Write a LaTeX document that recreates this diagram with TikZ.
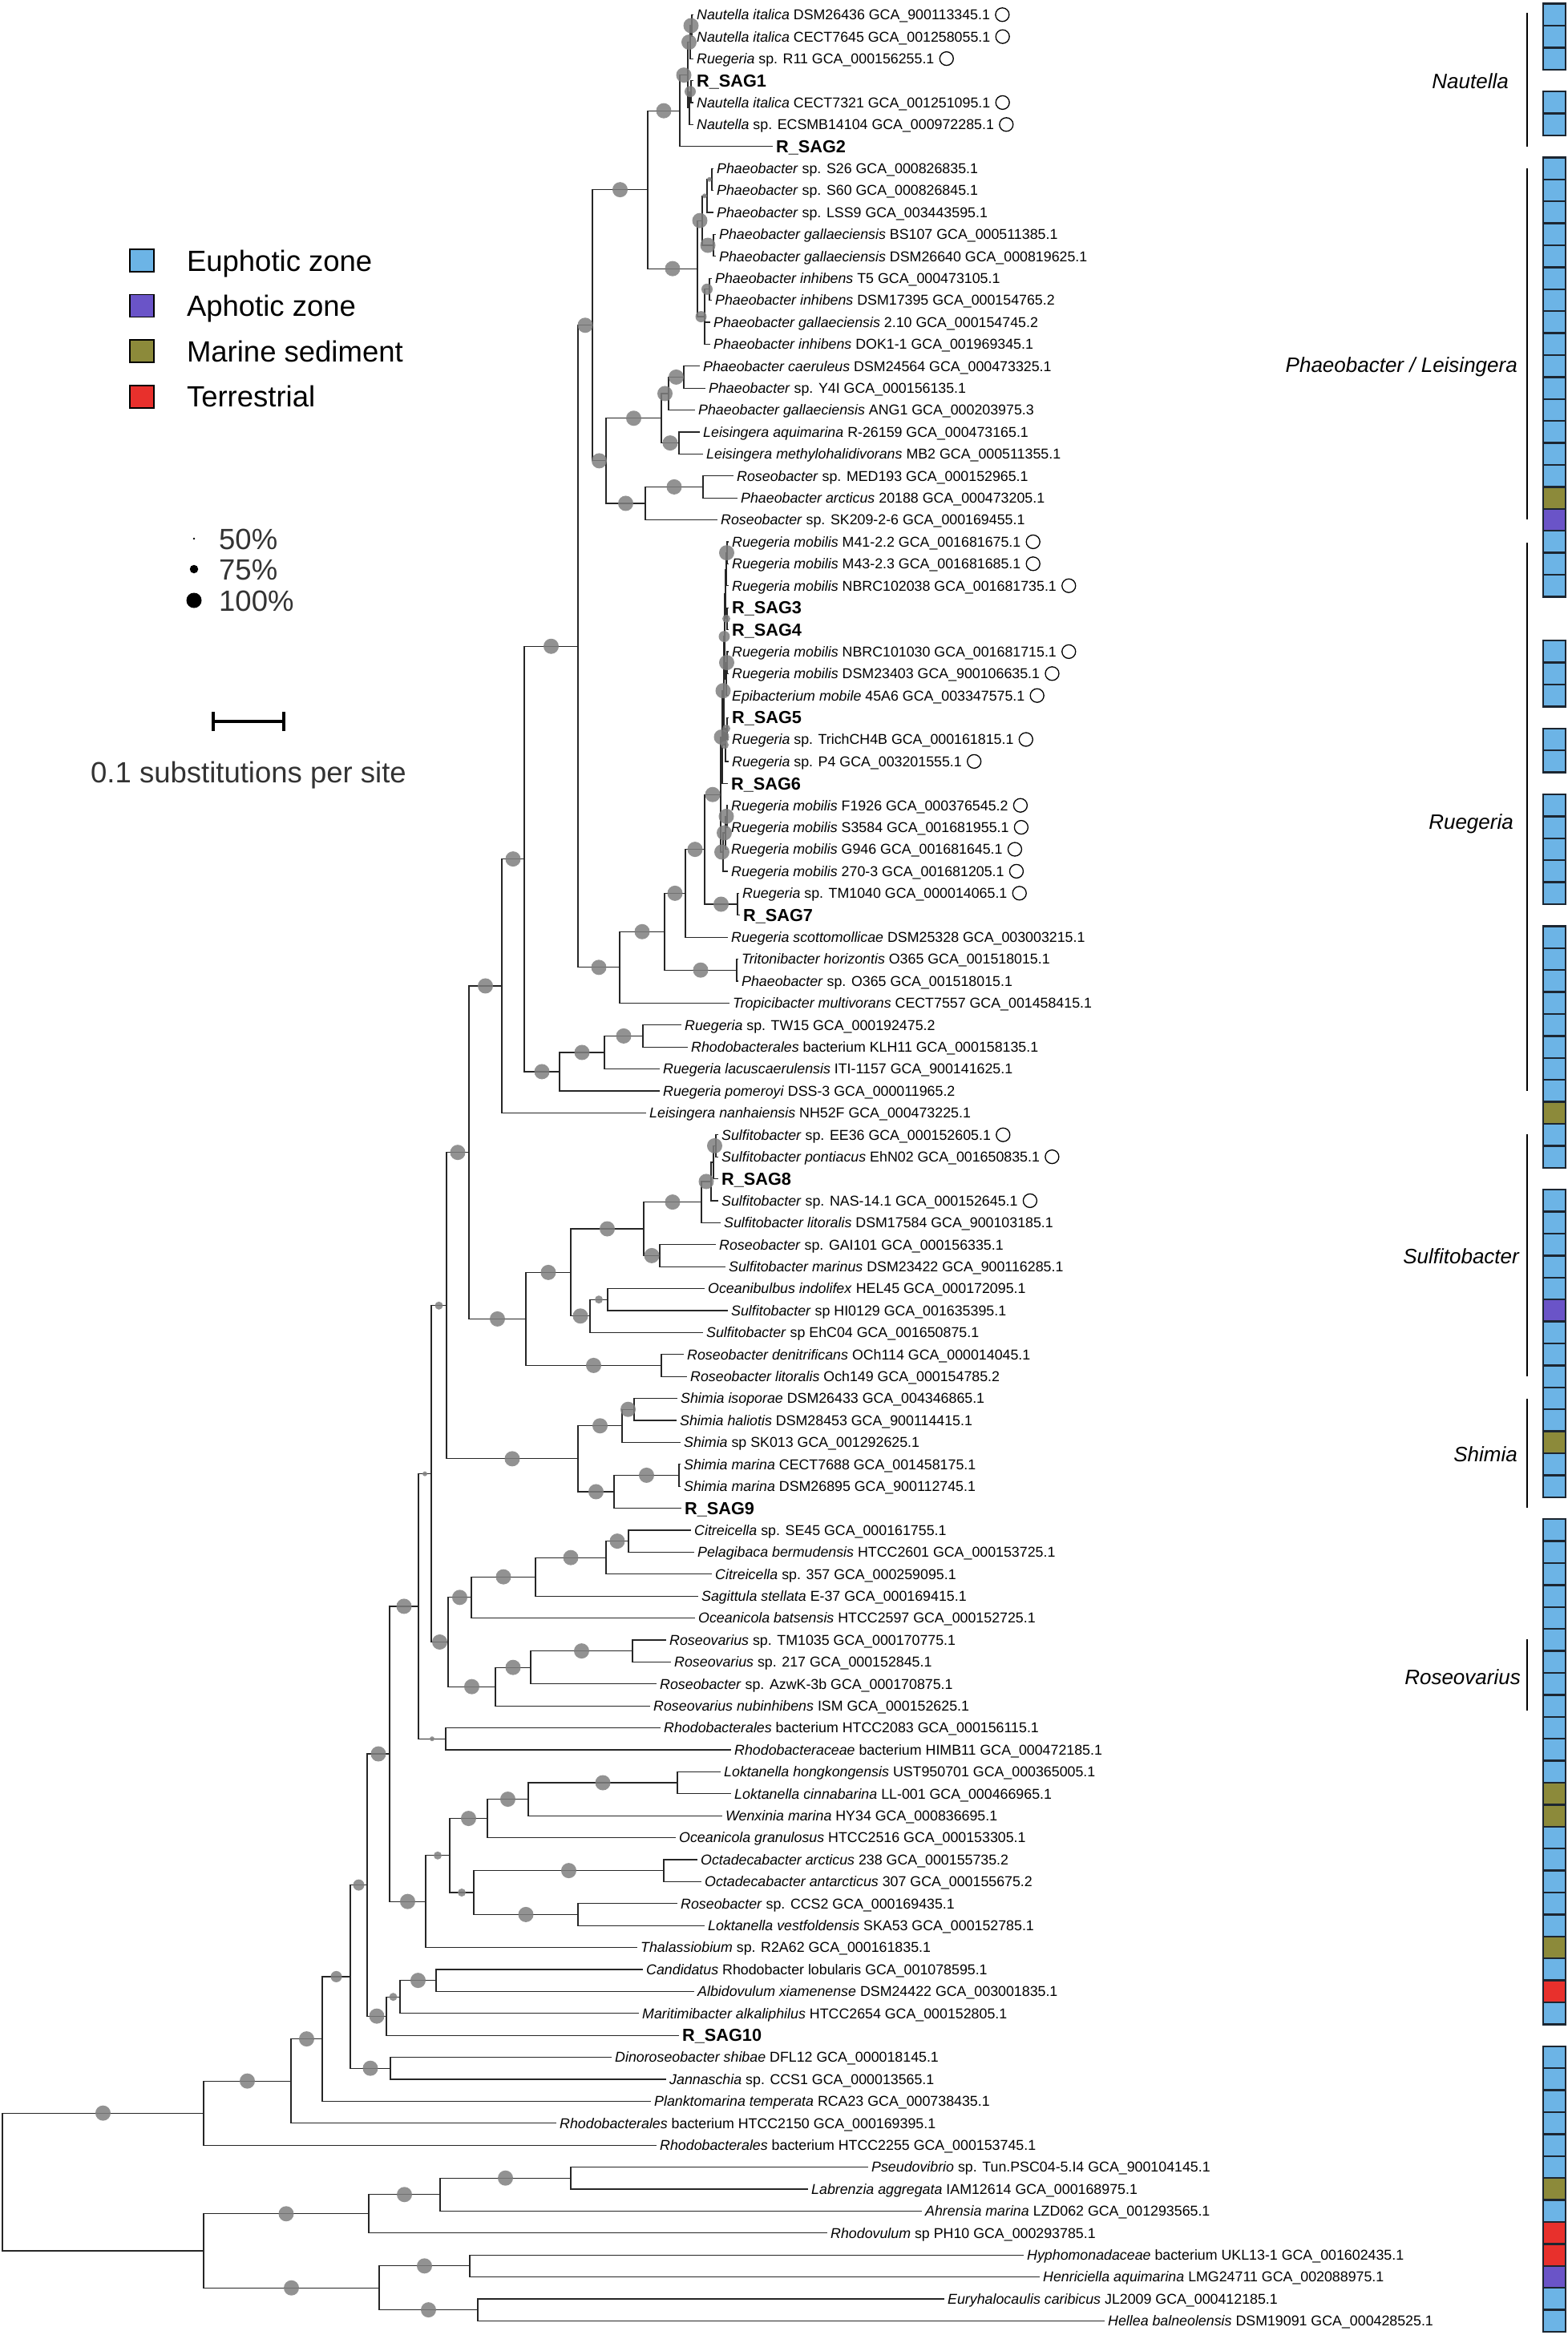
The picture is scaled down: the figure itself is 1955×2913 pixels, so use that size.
\documentclass[tikz,border=0pt]{standalone}
\usepackage{fontspec}
\setmainfont{Liberation Sans}
\usepackage{xcolor}
\usepackage{tikz}
\usetikzlibrary{calc}
\usetikzlibrary{positioning}

\definecolor{euphotic}{HTML}{6CB4E6}
\definecolor{aphotic}{HTML}{6A54C8}
\definecolor{sediment}{HTML}{8C8A3A}
\definecolor{terrestrial}{HTML}{E8302C}
\definecolor{bootgray}{HTML}{7F7F7F}
\definecolor{boxline}{HTML}{1C2631}

\tikzstyle{branch} = [draw=black!85, line width=1.2pt]
\tikzstyle{leaf} = [anchor=west, inner xsep=4pt, inner ysep=0pt, text height=12.7pt,
                    text depth=0pt, font=\fontsize{17.8}{20}\selectfont]
\tikzstyle{sag} = [leaf, text height=15.6pt, font=\fontsize{21.7}{24}\selectfont\bfseries]
\tikzstyle{strain} = [circle, draw=black, line width=1.3pt, minimum size=17pt, inner sep=0pt]
\tikzstyle{boot} = [circle, fill=bootgray, fill opacity=0.85, inner sep=0pt]
\tikzstyle{bsbig} = [boot, minimum size=19pt]
\tikzstyle{bsmed} = [boot, minimum size=14pt]
\tikzstyle{bssmall} = [boot, minimum size=10pt]
\tikzstyle{bstiny} = [boot, minimum size=6pt]
\tikzstyle{envbox} = [draw=boxline, line width=2.4pt]
\tikzstyle{cladebar} = [draw=black, line width=2.6pt]
\tikzstyle{cladename} = [anchor=east, inner sep=0pt, font=\fontsize{26}{30}\selectfont\itshape]
\tikzstyle{legendbox} = [draw=black, line width=1.6pt, minimum width=30pt,
                         minimum height=28pt, inner sep=0pt]
\tikzstyle{legendtext} = [anchor=west, inner sep=0pt, text height=26pt, text depth=0pt,
                          font=\fontsize{36.5}{40}\selectfont]
\tikzstyle{pcttext} = [legendtext, text=black!80]
\tikzstyle{dotkey} = [circle, fill=black, inner sep=0pt]
\tikzstyle{scalebar} = [draw=black, line width=3.5pt]

\begin{document}
\begin{tikzpicture}[x=1pt, y=-1pt]
  \useasboundingbox (0,0) rectangle (1955,2913);

  % Legend: habitats
  \node [legendbox, fill=euphotic] (kEuphotic) at (177,325) {};
  \node [legendbox, fill=aphotic, below=27pt of kEuphotic] (kAphotic) {};
  \node [legendbox, fill=sediment, below=27pt of kAphotic] (kSediment) {};
  \node [legendbox, fill=terrestrial, below=27pt of kSediment] (kTerrestrial) {};
  \node [legendtext, right=40pt of kEuphotic] (tEuphotic) {Euphotic zone};
  \node [legendtext, right=40pt of kAphotic] (tAphotic) {Aphotic zone};
  \node [legendtext, right=40pt of kSediment] (tSediment) {Marine sediment};
  \node [legendtext, right=40pt of kTerrestrial] (tTerrestrial) {Terrestrial};

  % Legend: bootstrap
  \node [dotkey, minimum size=2.6pt] (k50) at (242,672) {};
  \node [dotkey, minimum size=10.5pt] (k75) at (242,710) {};
  \node [dotkey, minimum size=19pt] (k100) at (242,749) {};
  \node [pcttext] (t50) at (273,672) {50\%};
  \node [pcttext] (t75) at (273,710) {75\%};
  \node [pcttext] (t100) at (273,749) {100\%};

  % Scale bar
  \coordinate (sbL) at (266,900);
  \coordinate (sbR) at (354,900);
  \draw [scalebar] (sbL) -- (sbR);
  \draw [scalebar] ($(sbL)+(0,-12)$) -- ($(sbL)+(0,12)$);
  \draw [scalebar] ($(sbR)+(0,-12)$) -- ($(sbR)+(0,12)$);
  \node [pcttext] (tScale) at (113,963) {0.1 substitutions per site};

  % Clades
  \draw [cladebar] (1905,16) -- (1905,183);
  \draw [cladebar] (1905,210) -- (1905,648);
  \draw [cladebar] (1905,677) -- (1905,1361);
  \draw [cladebar] (1905,1415) -- (1905,1717);
  \draw [cladebar] (1905,1745) -- (1905,1881);
  \draw [cladebar] (1905,2045) -- (1905,2134);
  \node [cladename] (cNautella) at (1882,101) {Nautella};
  \node [cladename] (cPhaeobacter) at (1893,458) {Phaeobacter / Leisingera};
  \node [cladename] (cRuegeria) at (1888,1028) {Ruegeria};
  \node [cladename] (cSulfitobacter) at (1895,1567) {Sulfitobacter};
  \node [cladename] (cShimia) at (1893,1814) {Shimia};
  \node [cladename] (cRoseovarius) at (1897,2092) {Roseovarius};

  \begin{scope}[y=-27.4pt, yshift=9.1pt]
  % Place leaves
  \node [leaf] (l1) at (865,1) {\textit{Nautella italica} DSM26436 GCA\_900113345.1};
  \node [leaf] (l2) at (865,2) {\textit{Nautella italica} CECT7645 GCA\_001258055.1};
  \node [leaf] (l3) at (865,3) {\textit{Ruegeria} sp. R11 GCA\_000156255.1};
  \node [sag] (l4) at (865,4) {R\_SAG1};
  \node [leaf] (l5) at (865,5) {\textit{Nautella italica} CECT7321 GCA\_001251095.1};
  \node [leaf] (l6) at (865,6) {\textit{Nautella} sp. ECSMB14104 GCA\_000972285.1};
  \node [sag] (l7) at (964,7) {R\_SAG2};
  \node [leaf] (l8) at (890,8) {\textit{Phaeobacter} sp. S26 GCA\_000826835.1};
  \node [leaf] (l9) at (890,9) {\textit{Phaeobacter} sp. S60 GCA\_000826845.1};
  \node [leaf] (l10) at (890,10) {\textit{Phaeobacter} sp. LSS9 GCA\_003443595.1};
  \node [leaf] (l11) at (893,11) {\textit{Phaeobacter gallaeciensis} BS107 GCA\_000511385.1};
  \node [leaf] (l12) at (893,12) {\textit{Phaeobacter gallaeciensis} DSM26640 GCA\_000819625.1};
  \node [leaf] (l13) at (888,13) {\textit{Phaeobacter inhibens} T5 GCA\_000473105.1};
  \node [leaf] (l14) at (888,14) {\textit{Phaeobacter inhibens} DSM17395 GCA\_000154765.2};
  \node [leaf] (l15) at (886,15) {\textit{Phaeobacter gallaeciensis} 2.10 GCA\_000154745.2};
  \node [leaf] (l16) at (886,16) {\textit{Phaeobacter inhibens} DOK1-1 GCA\_001969345.1};
  \node [leaf] (l17) at (873,17) {\textit{Phaeobacter caeruleus} DSM24564 GCA\_000473325.1};
  \node [leaf] (l18) at (880,18) {\textit{Phaeobacter} sp. Y4I GCA\_000156135.1};
  \node [leaf] (l19) at (867,19) {\textit{Phaeobacter gallaeciensis} ANG1 GCA\_000203975.3};
  \node [leaf] (l20) at (873,20) {\textit{Leisingera aquimarina} R-26159 GCA\_000473165.1};
  \node [leaf] (l21) at (877,21) {\textit{Leisingera methylohalidivorans} MB2 GCA\_000511355.1};
  \node [leaf] (l22) at (915,22) {\textit{Roseobacter} sp. MED193 GCA\_000152965.1};
  \node [leaf] (l23) at (920,23) {\textit{Phaeobacter arcticus} 20188 GCA\_000473205.1};
  \node [leaf] (l24) at (895,24) {\textit{Roseobacter} sp. SK209-2-6 GCA\_000169455.1};
  \node [leaf] (l25) at (909,25) {\textit{Ruegeria mobilis} M41-2.2 GCA\_001681675.1};
  \node [leaf] (l26) at (909,26) {\textit{Ruegeria mobilis} M43-2.3 GCA\_001681685.1};
  \node [leaf] (l27) at (909,27) {\textit{Ruegeria mobilis} NBRC102038 GCA\_001681735.1};
  \node [sag] (l28) at (909,28) {R\_SAG3};
  \node [sag] (l29) at (909,29) {R\_SAG4};
  \node [leaf] (l30) at (909,30) {\textit{Ruegeria mobilis} NBRC101030 GCA\_001681715.1};
  \node [leaf] (l31) at (909,31) {\textit{Ruegeria mobilis} DSM23403 GCA\_900106635.1};
  \node [leaf] (l32) at (909,32) {\textit{Epibacterium mobile} 45A6 GCA\_003347575.1};
  \node [sag] (l33) at (909,33) {R\_SAG5};
  \node [leaf] (l34) at (909,34) {\textit{Ruegeria} sp. TrichCH4B GCA\_000161815.1};
  \node [leaf] (l35) at (909,35) {\textit{Ruegeria} sp. P4 GCA\_003201555.1};
  \node [sag] (l36) at (908,36) {R\_SAG6};
  \node [leaf] (l37) at (908,37) {\textit{Ruegeria mobilis} F1926 GCA\_000376545.2};
  \node [leaf] (l38) at (908,38) {\textit{Ruegeria mobilis} S3584 GCA\_001681955.1};
  \node [leaf] (l39) at (908,39) {\textit{Ruegeria mobilis} G946 GCA\_001681645.1};
  \node [leaf] (l40) at (908,40) {\textit{Ruegeria mobilis} 270-3 GCA\_001681205.1};
  \node [leaf] (l41) at (922,41) {\textit{Ruegeria} sp. TM1040 GCA\_000014065.1};
  \node [sag] (l42) at (923,42) {R\_SAG7};
  \node [leaf] (l43) at (908,43) {\textit{Ruegeria scottomollicae} DSM25328 GCA\_003003215.1};
  \node [leaf] (l44) at (921,44) {\textit{Tritonibacter horizontis} O365 GCA\_001518015.1};
  \node [leaf] (l45) at (921,45) {\textit{Phaeobacter} sp. O365 GCA\_001518015.1};
  \node [leaf] (l46) at (910,46) {\textit{Tropicibacter multivorans} CECT7557 GCA\_001458415.1};
  \node [leaf] (l47) at (850,47) {\textit{Ruegeria} sp. TW15 GCA\_000192475.2};
  \node [leaf] (l48) at (858,48) {\textit{Rhodobacterales} bacterium KLH11 GCA\_000158135.1};
  \node [leaf] (l49) at (823,49) {\textit{Ruegeria lacuscaerulensis} ITI-1157 GCA\_900141625.1};
  \node [leaf] (l50) at (823,50) {\textit{Ruegeria pomeroyi} DSS-3 GCA\_000011965.2};
  \node [leaf] (l51) at (806,51) {\textit{Leisingera nanhaiensis} NH52F GCA\_000473225.1};
  \node [leaf] (l52) at (896,52) {\textit{Sulfitobacter} sp. EE36 GCA\_000152605.1};
  \node [leaf] (l53) at (896,53) {\textit{Sulfitobacter pontiacus} EhN02 GCA\_001650835.1};
  \node [sag] (l54) at (896,54) {R\_SAG8};
  \node [leaf] (l55) at (896,55) {\textit{Sulfitobacter} sp. NAS-14.1 GCA\_000152645.1};
  \node [leaf] (l56) at (899,56) {\textit{Sulfitobacter litoralis} DSM17584 GCA\_900103185.1};
  \node [leaf] (l57) at (893,57) {\textit{Roseobacter} sp. GAI101 GCA\_000156335.1};
  \node [leaf] (l58) at (905,58) {\textit{Sulfitobacter marinus} DSM23422 GCA\_900116285.1};
  \node [leaf] (l59) at (879,59) {\textit{Oceanibulbus indolifex} HEL45 GCA\_000172095.1};
  \node [leaf] (l60) at (908,60) {\textit{Sulfitobacter} sp HI0129 GCA\_001635395.1};
  \node [leaf] (l61) at (877,61) {\textit{Sulfitobacter} sp EhC04 GCA\_001650875.1};
  \node [leaf] (l62) at (853,62) {\textit{Roseobacter denitrificans} OCh114 GCA\_000014045.1};
  \node [leaf] (l63) at (857,63) {\textit{Roseobacter litoralis} Och149 GCA\_000154785.2};
  \node [leaf] (l64) at (845,64) {\textit{Shimia isoporae} DSM26433 GCA\_004346865.1};
  \node [leaf] (l65) at (844,65) {\textit{Shimia haliotis} DSM28453 GCA\_900114415.1};
  \node [leaf] (l66) at (849,66) {\textit{Shimia} sp SK013 GCA\_001292625.1};
  \node [leaf] (l67) at (849,67) {\textit{Shimia marina} CECT7688 GCA\_001458175.1};
  \node [leaf] (l68) at (849,68) {\textit{Shimia marina} DSM26895 GCA\_900112745.1};
  \node [sag] (l69) at (850,69) {R\_SAG9};
  \node [leaf] (l70) at (862,70) {\textit{Citreicella} sp. SE45 GCA\_000161755.1};
  \node [leaf] (l71) at (866,71) {\textit{Pelagibaca bermudensis} HTCC2601 GCA\_000153725.1};
  \node [leaf] (l72) at (888,72) {\textit{Citreicella} sp. 357 GCA\_000259095.1};
  \node [leaf] (l73) at (871,73) {\textit{Sagittula stellata} E-37 GCA\_000169415.1};
  \node [leaf] (l74) at (867,74) {\textit{Oceanicola batsensis} HTCC2597 GCA\_000152725.1};
  \node [leaf] (l75) at (831,75) {\textit{Roseovarius} sp. TM1035 GCA\_000170775.1};
  \node [leaf] (l76) at (837,76) {\textit{Roseovarius} sp. 217 GCA\_000152845.1};
  \node [leaf] (l77) at (819,77) {\textit{Roseobacter} sp. AzwK-3b GCA\_000170875.1};
  \node [leaf] (l78) at (811,78) {\textit{Roseovarius nubinhibens} ISM GCA\_000152625.1};
  \node [leaf] (l79) at (824,79) {\textit{Rhodobacterales} bacterium HTCC2083 GCA\_000156115.1};
  \node [leaf] (l80) at (912,80) {\textit{Rhodobacteraceae} bacterium HIMB11 GCA\_000472185.1};
  \node [leaf] (l81) at (899,81) {\textit{Loktanella hongkongensis} UST950701 GCA\_000365005.1};
  \node [leaf] (l82) at (912,82) {\textit{Loktanella cinnabarina} LL-001 GCA\_000466965.1};
  \node [leaf] (l83) at (901,83) {\textit{Wenxinia marina} HY34 GCA\_000836695.1};
  \node [leaf] (l84) at (843,84) {\textit{Oceanicola granulosus} HTCC2516 GCA\_000153305.1};
  \node [leaf] (l85) at (870,85) {\textit{Octadecabacter arcticus} 238 GCA\_000155735.2};
  \node [leaf] (l86) at (875,86) {\textit{Octadecabacter antarcticus} 307 GCA\_000155675.2};
  \node [leaf] (l87) at (845,87) {\textit{Roseobacter} sp. CCS2 GCA\_000169435.1};
  \node [leaf] (l88) at (879,88) {\textit{Loktanella vestfoldensis} SKA53 GCA\_000152785.1};
  \node [leaf] (l89) at (795,89) {\textit{Thalassiobium} sp. R2A62 GCA\_000161835.1};
  \node [leaf] (l90) at (802,90) {\textit{Candidatus} Rhodobacter lobularis GCA\_001078595.1};
  \node [leaf] (l91) at (866,91) {\textit{Albidovulum xiamenense} DSM24422 GCA\_003001835.1};
  \node [leaf] (l92) at (797,92) {\textit{Maritimibacter alkaliphilus} HTCC2654 GCA\_000152805.1};
  \node [sag] (l93) at (847,93) {R\_SAG10};
  \node [leaf] (l94) at (763,94) {\textit{Dinoroseobacter shibae} DFL12 GCA\_000018145.1};
  \node [leaf] (l95) at (831,95) {\textit{Jannaschia} sp. CCS1 GCA\_000013565.1};
  \node [leaf] (l96) at (812,96) {\textit{Planktomarina temperata} RCA23 GCA\_000738435.1};
  \node [leaf] (l97) at (694,97) {\textit{Rhodobacterales} bacterium HTCC2150 GCA\_000169395.1};
  \node [leaf] (l98) at (819,98) {\textit{Rhodobacterales} bacterium HTCC2255 GCA\_000153745.1};
  \node [leaf] (l99) at (1083,99) {\textit{Pseudovibrio} sp. Tun.PSC04-5.I4 GCA\_900104145.1};
  \node [leaf] (l100) at (1008,100) {\textit{Labrenzia aggregata} IAM12614 GCA\_000168975.1};
  \node [leaf] (l101) at (1150,101) {\textit{Ahrensia marina} LZD062 GCA\_001293565.1};
  \node [leaf] (l102) at (1032,102) {\textit{Rhodovulum} sp PH10 GCA\_000293785.1};
  \node [leaf] (l103) at (1277,103) {\textit{Hyphomonadaceae} bacterium UKL13-1 GCA\_001602435.1};
  \node [leaf] (l104) at (1297,104) {\textit{Henriciella aquimarina} LMG24711 GCA\_002088975.1};
  \node [leaf] (l105) at (1178,105) {\textit{Euryhalocaulis caribicus} JL2009 GCA\_000412185.1};
  \node [leaf] (l106) at (1378,106) {\textit{Hellea balneolensis} DSM19091 GCA\_000428525.1};

  % Strain marks
  \node [strain, right=2pt of l1] (o1) {};
  \node [strain, right=2pt of l2] (o2) {};
  \node [strain, right=2pt of l3] (o3) {};
  \node [strain, right=2pt of l5] (o5) {};
  \node [strain, right=2pt of l6] (o6) {};
  \node [strain, right=2pt of l25] (o25) {};
  \node [strain, right=2pt of l26] (o26) {};
  \node [strain, right=2pt of l27] (o27) {};
  \node [strain, right=2pt of l30] (o30) {};
  \node [strain, right=2pt of l31] (o31) {};
  \node [strain, right=2pt of l32] (o32) {};
  \node [strain, right=2pt of l34] (o34) {};
  \node [strain, right=2pt of l35] (o35) {};
  \node [strain, right=2pt of l37] (o37) {};
  \node [strain, right=2pt of l38] (o38) {};
  \node [strain, right=2pt of l39] (o39) {};
  \node [strain, right=2pt of l40] (o40) {};
  \node [strain, right=2pt of l41] (o41) {};
  \node [strain, right=2pt of l52] (o52) {};
  \node [strain, right=2pt of l53] (o53) {};
  \node [strain, right=2pt of l55] (o55) {};

  % Habitat boxes
  \foreach \i in {1,2,3,5,6,8,9,10,11,12,13,14,15,16,17,18,19,20,21,22,25,26,27,30,31,32,
                  34,35,37,38,39,40,41,43,44,45,46,47,48,49,50,52,53,55,56,57,58,59,61,62,
                  63,64,65,67,68,70,71,72,73,74,75,76,77,78,79,80,81,84,85,86,87,88,90,92,
                  94,95,96,97,98,99,101,105,106}
    \draw [envbox, fill=euphotic] (1925,\i-0.5) rectangle (1953,\i+0.5);
  \foreach \i in {23,51,66,82,83,89,100}
    \draw [envbox, fill=sediment] (1925,\i-0.5) rectangle (1953,\i+0.5);
  \foreach \i in {24,60,104}
    \draw [envbox, fill=aphotic] (1925,\i-0.5) rectangle (1953,\i+0.5);
  \foreach \i in {91,102,103}
    \draw [envbox, fill=terrestrial] (1925,\i-0.5) rectangle (1953,\i+0.5);

  % Internal nodes
  \coordinate (n12) at (863,1.5);
  \coordinate (n123) at (861,2.25);
  \coordinate (n45) at (862,4.5);
  \coordinate (n456) at (860,5.25);
  \coordinate (nNau) at (858,3.75);
  \coordinate (nW3) at (848,5.375);
  \coordinate (nP1a) at (888,8.5);
  \coordinate (nP1b) at (882,9.25);
  \coordinate (nP1c) at (890,11.5);
  \coordinate (nP1) at (876,10.375);
  \coordinate (nP2a) at (885,13.5);
  \coordinate (nP2) at (879,14.75);
  \coordinate (nW4) at (870,12.5625);
  \coordinate (nW1) at (808,8.96875);
  \coordinate (nW9) at (853,17.5);
  \coordinate (nW7) at (834,18.25);
  \coordinate (nW8) at (847,20.5);
  \coordinate (nW5) at (825,19.375);
  \coordinate (nW10) at (877,22.5);
  \coordinate (nW6) at (805,23.25);
  \coordinate (nW2) at (756,21.3125);
  \coordinate (nW) at (739,15.140625);
  \coordinate (c1) at (907,25.5);
  \coordinate (c2) at (906,26.25);
  \coordinate (c3) at (907,28.5);
  \coordinate (c4) at (905,27.375);
  \coordinate (c5) at (907,30.5);
  \coordinate (c6) at (906,31.25);
  \coordinate (c7) at (904,29.3125);
  \coordinate (c9) at (907,33.5);
  \coordinate (c8) at (905,34.25);
  \coordinate (cA) at (903,31.78125);
  \coordinate (cUp) at (901,33.890625);
  \coordinate (c10) at (907,37.5);
  \coordinate (c11) at (905,38.25);
  \coordinate (cL) at (902,39.125);
  \coordinate (nX6) at (899,36.5078);
  \coordinate (nX7) at (920,41.5);
  \coordinate (nX5) at (879,39.0039);
  \coordinate (nX3) at (855,41.002);
  \coordinate (nX4) at (919,44.5);
  \coordinate (nX1) at (829,42.751);
  \coordinate (nX) at (773,44.3755);
  \coordinate (nU1) at (721,29.758);
  \coordinate (nV2) at (802,47.5);
  \coordinate (nV1) at (754,48.25);
  \coordinate (nV) at (698,49.125);
  \coordinate (nU) at (654,39.4415);
  \coordinate (nA11) at (626,45.2208);
  \coordinate (nS8) at (893,52.5);
  \coordinate (nS7b) at (890,53.25);
  \coordinate (nS7) at (887,54.125);
  \coordinate (nS5) at (875,55.0625);
  \coordinate (nS6) at (823,57.5);
  \coordinate (nS3) at (803,56.28125);
  \coordinate (nS10) at (758,59.5);
  \coordinate (nS4) at (736,60.25);
  \coordinate (nS1) at (712,58.265625);
  \coordinate (nS2) at (825,62.5);
  \coordinate (nS) at (656,60.3828);
  \coordinate (nA10) at (585,52.8018);
  \coordinate (nG1) at (791,64.5);
  \coordinate (nG2) at (776,65.25);
  \coordinate (nH2) at (847,67.5);
  \coordinate (nH) at (766,68.25);
  \coordinate (nG) at (721,66.75);
  \coordinate (nA9) at (557,59.7759);
  \coordinate (nF7) at (784,70.5);
  \coordinate (nF8) at (756,71.25);
  \coordinate (nF9) at (668,72.125);
  \coordinate (nF1) at (588,73.0625);
  \coordinate (nF5) at (789,75.5);
  \coordinate (nF4) at (662,76.25);
  \coordinate (nF2) at (618,77.125);
  \coordinate (nF) at (559,75.09375);
  \coordinate (nA8) at (538,67.4348);
  \coordinate (nE) at (556,79.5);
  \coordinate (nA7) at (522,73.4674);
  \coordinate (nD5) at (845,81.5);
  \coordinate (nD4) at (659,82.25);
  \coordinate (nD2) at (608,83.125);
  \coordinate (nD6) at (828,85.5);
  \coordinate (nD7) at (721,87.5);
  \coordinate (nD3) at (591,86.5);
  \coordinate (nD1) at (561,84.8125);
  \coordinate (nD) at (531,86.90625);
  \coordinate (nA6) at (486,80.1868);
  \coordinate (nC2) at (544,90.5);
  \coordinate (nC1) at (499,91.25);
  \coordinate (nC) at (482,92.125);
  \coordinate (nA5) at (458,86.1559);
  \coordinate (nB) at (487,94.5);
  \coordinate (nA4) at (437,90.328);
  \coordinate (nA3) at (402,93.164);
  \coordinate (nA2) at (363,95.082);
  \coordinate (nA1) at (254,96.541);
  \coordinate (nO3) at (712,99.5);
  \coordinate (nO2) at (549,100.25);
  \coordinate (nO1) at (460,101.125);
  \coordinate (nO5) at (586,103.5);
  \coordinate (nO6) at (596,105.5);
  \coordinate (nO4) at (473,104.5);
  \coordinate (nO) at (254,102.8125);
  \coordinate (root) at (3,99.677);

  % Branches
  \draw [branch] (l1.west) -| (l2.west -| n12) -- (l2.west);
  \draw [branch] (n12) -| (l3.west -| n123) -- (l3.west);
  \draw [branch] (l4.west) -| (l5.west -| n45) -- (l5.west);
  \draw [branch] (n45) -| (l6.west -| n456) -- (l6.west);
  \draw [branch] (n123) -| (n456 -| nNau) -- (n456);
  \draw [branch] (nNau) -| (l7.west -| nW3) -- (l7.west);
  \draw [branch] (l8.west) -| (l9.west -| nP1a) -- (l9.west);
  \draw [branch] (nP1a) -| (l10.west -| nP1b) -- (l10.west);
  \draw [branch] (l11.west) -| (l12.west -| nP1c) -- (l12.west);
  \draw [branch] (nP1b) -| (nP1c -| nP1) -- (nP1c);
  \draw [branch] (l13.west) -| (l14.west -| nP2a) -- (l14.west);
  \draw [branch] (nP2a) -| (l16.west -| nP2) -- (l16.west);
  \draw [branch] (l15.west -| nP2) -- (l15.west);
  \draw [branch] (nP1) -| (nP2 -| nW4) -- (nP2);
  \draw [branch] (nW3) -| (nW4 -| nW1) -- (nW4);
  \draw [branch] (l17.west) -| (l18.west -| nW9) -- (l18.west);
  \draw [branch] (nW9) -| (l19.west -| nW7) -- (l19.west);
  \draw [branch] (l20.west) -| (l21.west -| nW8) -- (l21.west);
  \draw [branch] (nW7) -| (nW8 -| nW5) -- (nW8);
  \draw [branch] (l22.west) -| (l23.west -| nW10) -- (l23.west);
  \draw [branch] (nW10) -| (l24.west -| nW6) -- (l24.west);
  \draw [branch] (nW5) -| (nW6 -| nW2) -- (nW6);
  \draw [branch] (nW1) -| (nW2 -| nW) -- (nW2);
  \draw [branch] (l25.west) -| (l26.west -| c1) -- (l26.west);
  \draw [branch] (c1) -| (l27.west -| c2) -- (l27.west);
  \draw [branch] (l28.west) -| (l29.west -| c3) -- (l29.west);
  \draw [branch] (c2) -| (c3 -| c4) -- (c3);
  \draw [branch] (l30.west) -| (l31.west -| c5) -- (l31.west);
  \draw [branch] (c5) -| (l32.west -| c6) -- (l32.west);
  \draw [branch] (c4) -| (c6 -| c7) -- (c6);
  \draw [branch] (l33.west) -| (l34.west -| c9) -- (l34.west);
  \draw [branch] (c9) -| (l35.west -| c8) -- (l35.west);
  \draw [branch] (c7) -| (c8 -| cA) -- (c8);
  \draw [branch] (cA) -| (l36.west -| cUp) -- (l36.west);
  \draw [branch] (l37.west) -| (l38.west -| c10) -- (l38.west);
  \draw [branch] (c10) -| (l39.west -| c11) -- (l39.west);
  \draw [branch] (c11) -| (l40.west -| cL) -- (l40.west);
  \draw [branch] (cUp) -| (cL -| nX6) -- (cL);
  \draw [branch] (l41.west) -| (l42.west -| nX7) -- (l42.west);
  \draw [branch] (nX6) -| (nX7 -| nX5) -- (nX7);
  \draw [branch] (nX5) -| (l43.west -| nX3) -- (l43.west);
  \draw [branch] (l44.west) -| (l45.west -| nX4) -- (l45.west);
  \draw [branch] (nX3) -| (nX4 -| nX1) -- (nX4);
  \draw [branch] (nX1) -| (l46.west -| nX) -- (l46.west);
  \draw [branch] (nW) -| (nX -| nU1) -- (nX);
  \draw [branch] (l47.west) -| (l48.west -| nV2) -- (l48.west);
  \draw [branch] (nV2) -| (l49.west -| nV1) -- (l49.west);
  \draw [branch] (nV1) -| (l50.west -| nV) -- (l50.west);
  \draw [branch] (nU1) -| (nV -| nU) -- (nV);
  \draw [branch] (nU) -| (l51.west -| nA11) -- (l51.west);
  \draw [branch] (l52.west) -| (l53.west -| nS8) -- (l53.west);
  \draw [branch] (nS8) -| (l54.west -| nS7b) -- (l54.west);
  \draw [branch] (nS7b) -| (l55.west -| nS7) -- (l55.west);
  \draw [branch] (nS7) -| (l56.west -| nS5) -- (l56.west);
  \draw [branch] (l57.west) -| (l58.west -| nS6) -- (l58.west);
  \draw [branch] (nS5) -| (nS6 -| nS3) -- (nS6);
  \draw [branch] (l59.west) -| (l60.west -| nS10) -- (l60.west);
  \draw [branch] (nS10) -| (l61.west -| nS4) -- (l61.west);
  \draw [branch] (nS3) -| (nS4 -| nS1) -- (nS4);
  \draw [branch] (l62.west) -| (l63.west -| nS2) -- (l63.west);
  \draw [branch] (nS1) -| (nS2 -| nS) -- (nS2);
  \draw [branch] (nA11) -| (nS -| nA10) -- (nS);
  \draw [branch] (l64.west) -| (l65.west -| nG1) -- (l65.west);
  \draw [branch] (nG1) -| (l66.west -| nG2) -- (l66.west);
  \draw [branch] (l67.west) -| (l68.west -| nH2) -- (l68.west);
  \draw [branch] (nH2) -| (l69.west -| nH) -- (l69.west);
  \draw [branch] (nG2) -| (nH -| nG) -- (nH);
  \draw [branch] (nA10) -| (nG -| nA9) -- (nG);
  \draw [branch] (l70.west) -| (l71.west -| nF7) -- (l71.west);
  \draw [branch] (nF7) -| (l72.west -| nF8) -- (l72.west);
  \draw [branch] (nF8) -| (l73.west -| nF9) -- (l73.west);
  \draw [branch] (nF9) -| (l74.west -| nF1) -- (l74.west);
  \draw [branch] (l75.west) -| (l76.west -| nF5) -- (l76.west);
  \draw [branch] (nF5) -| (l77.west -| nF4) -- (l77.west);
  \draw [branch] (nF4) -| (l78.west -| nF2) -- (l78.west);
  \draw [branch] (nF1) -| (nF2 -| nF) -- (nF2);
  \draw [branch] (nA9) -| (nF -| nA8) -- (nF);
  \draw [branch] (l79.west) -| (l80.west -| nE) -- (l80.west);
  \draw [branch] (nA8) -| (nE -| nA7) -- (nE);
  \draw [branch] (l81.west) -| (l82.west -| nD5) -- (l82.west);
  \draw [branch] (nD5) -| (l83.west -| nD4) -- (l83.west);
  \draw [branch] (nD4) -| (l84.west -| nD2) -- (l84.west);
  \draw [branch] (l85.west) -| (l86.west -| nD6) -- (l86.west);
  \draw [branch] (l87.west) -| (l88.west -| nD7) -- (l88.west);
  \draw [branch] (nD6) -| (nD7 -| nD3) -- (nD7);
  \draw [branch] (nD2) -| (nD3 -| nD1) -- (nD3);
  \draw [branch] (nD1) -| (l89.west -| nD) -- (l89.west);
  \draw [branch] (nA7) -| (nD -| nA6) -- (nD);
  \draw [branch] (l90.west) -| (l91.west -| nC2) -- (l91.west);
  \draw [branch] (nC2) -| (l92.west -| nC1) -- (l92.west);
  \draw [branch] (nC1) -| (l93.west -| nC) -- (l93.west);
  \draw [branch] (nA6) -| (nC -| nA5) -- (nC);
  \draw [branch] (l94.west) -| (l95.west -| nB) -- (l95.west);
  \draw [branch] (nA5) -| (nB -| nA4) -- (nB);
  \draw [branch] (nA4) -| (l96.west -| nA3) -- (l96.west);
  \draw [branch] (nA3) -| (l97.west -| nA2) -- (l97.west);
  \draw [branch] (nA2) -| (l98.west -| nA1) -- (l98.west);
  \draw [branch] (l99.west) -| (l100.west -| nO3) -- (l100.west);
  \draw [branch] (nO3) -| (l101.west -| nO2) -- (l101.west);
  \draw [branch] (nO2) -| (l102.west -| nO1) -- (l102.west);
  \draw [branch] (l103.west) -| (l104.west -| nO5) -- (l104.west);
  \draw [branch] (l105.west) -| (l106.west -| nO6) -- (l106.west);
  \draw [branch] (nO5) -| (nO6 -| nO4) -- (nO6);
  \draw [branch] (nO1) -| (nO4 -| nO) -- (nO4);
  \draw [branch] (nA1) -| (nO -| root) -- (nO);

  % Bootstrap support
  \node [bsbig] (b-n12) at ($(n12)!.5!(n12 -| n123)$) {};
  \node [bsbig] (b-n123) at ($(n123)!.5!(n123 -| nNau)$) {};
  \node [bsmed] (b-n45) at ($(n45)!.5!(n45 -| n456)$) {};
  \node [bsbig] (b-nNau) at ($(nNau)!.5!(nNau -| nW3)$) {};
  \node [bsbig] (b-nW3) at ($(nW3)!.5!(nW3 -| nW1)$) {};
  \node [bstiny] (b-nP1a) at ($(nP1a)!.5!(nP1a -| nP1b)$) {};
  \node [bstiny] (b-nP1b) at ($(nP1b)!.5!(nP1b -| nP1)$) {};
  \node [bsbig] (b-nP1c) at ($(nP1c)!.5!(nP1c -| nP1)$) {};
  \node [bsbig] (b-nP1) at ($(nP1)!.5!(nP1 -| nW4)$) {};
  \node [bsmed] (b-nP2a) at ($(nP2a)!.5!(nP2a -| nP2)$) {};
  \node [bsmed] (b-nP2) at ($(nP2)!.5!(nP2 -| nW4)$) {};
  \node [bsbig] (b-nW4) at ($(nW4)!.5!(nW4 -| nW1)$) {};
  \node [bsbig] (b-nW1) at ($(nW1)!.5!(nW1 -| nW)$) {};
  \node [bsbig] (b-nW9) at ($(nW9)!.5!(nW9 -| nW7)$) {};
  \node [bsbig] (b-nW7) at ($(nW7)!.5!(nW7 -| nW5)$) {};
  \node [bsbig] (b-nW8) at ($(nW8)!.5!(nW8 -| nW5)$) {};
  \node [bsbig] (b-nW5) at ($(nW5)!.5!(nW5 -| nW2)$) {};
  \node [bsbig] (b-nW10) at ($(nW10)!.5!(nW10 -| nW6)$) {};
  \node [bsbig] (b-nW6) at ($(nW6)!.5!(nW6 -| nW2)$) {};
  \node [bsbig] (b-nW2) at ($(nW2)!.5!(nW2 -| nW)$) {};
  \node [bsbig] (b-nW) at ($(nW)!.5!(nW -| nU1)$) {};
  \node [bsbig] (b-c1) at ($(c1)!.5!(c1 -| c2)$) {};
  \node [bssmall] (b-c3) at ($(c3)!.5!(c3 -| c4)$) {};
  \node [bsbig] (b-c5) at ($(c5)!.5!(c5 -| c6)$) {};
  \node [bsmed] (b-c7) at ($(c7)!.5!(c7 -| cA)$) {};
  \node [bssmall] (b-c9) at ($(c9)!.5!(c9 -| c8)$) {};
  \node [bssmall] (b-c8) at ($(c8)!.5!(c8 -| cA)$) {};
  \node [bsbig] (b-cA) at ($(cA)!.5!(cA -| cUp)$) {};
  \node [bsbig] (b-cUp) at ($(cUp)!.5!(cUp -| nX6)$) {};
  \node [bsbig] (b-c10) at ($(c10)!.5!(c10 -| c11)$) {};
  \node [bsbig] (b-c11) at ($(c11)!.5!(c11 -| cL)$) {};
  \node [bsbig] (b-cL) at ($(cL)!.5!(cL -| nX6)$) {};
  \node [bsbig] (b-nX6) at ($(nX6)!.5!(nX6 -| nX5)$) {};
  \node [bsbig] (b-nX7) at ($(nX7)!.5!(nX7 -| nX5)$) {};
  \node [bsbig] (b-nX5) at ($(nX5)!.5!(nX5 -| nX3)$) {};
  \node [bsbig] (b-nX3) at ($(nX3)!.5!(nX3 -| nX1)$) {};
  \node [bsbig] (b-nX4) at ($(nX4)!.5!(nX4 -| nX1)$) {};
  \node [bsbig] (b-nX1) at ($(nX1)!.5!(nX1 -| nX)$) {};
  \node [bsbig] (b-nX) at ($(nX)!.5!(nX -| nU1)$) {};
  \node [bsbig] (b-nU1) at ($(nU1)!.5!(nU1 -| nU)$) {};
  \node [bsbig] (b-nV2) at ($(nV2)!.5!(nV2 -| nV1)$) {};
  \node [bsbig] (b-nV1) at ($(nV1)!.5!(nV1 -| nV)$) {};
  \node [bsbig] (b-nV) at ($(nV)!.5!(nV -| nU)$) {};
  \node [bsbig] (b-nU) at ($(nU)!.5!(nU -| nA11)$) {};
  \node [bsbig] (b-nA11) at ($(nA11)!.5!(nA11 -| nA10)$) {};
  \node [bsbig] (b-nS8) at ($(nS8)!.5!(nS8 -| nS7b)$) {};
  \node [bsbig] (b-nS7) at ($(nS7)!.5!(nS7 -| nS5)$) {};
  \node [bsbig] (b-nS5) at ($(nS5)!.5!(nS5 -| nS3)$) {};
  \node [bsbig] (b-nS6) at ($(nS6)!.5!(nS6 -| nS3)$) {};
  \node [bsbig] (b-nS3) at ($(nS3)!.5!(nS3 -| nS1)$) {};
  \node [bssmall] (b-nS10) at ($(nS10)!.5!(nS10 -| nS4)$) {};
  \node [bsbig] (b-nS4) at ($(nS4)!.5!(nS4 -| nS1)$) {};
  \node [bsbig] (b-nS1) at ($(nS1)!.5!(nS1 -| nS)$) {};
  \node [bsbig] (b-nS2) at ($(nS2)!.5!(nS2 -| nS)$) {};
  \node [bsbig] (b-nS) at ($(nS)!.5!(nS -| nA10)$) {};
  \node [bsbig] (b-nA10) at ($(nA10)!.5!(nA10 -| nA9)$) {};
  \node [bsbig] (b-nG1) at ($(nG1)!.5!(nG1 -| nG2)$) {};
  \node [bsbig] (b-nG2) at ($(nG2)!.5!(nG2 -| nG)$) {};
  \node [bsbig] (b-nH2) at ($(nH2)!.5!(nH2 -| nH)$) {};
  \node [bsbig] (b-nH) at ($(nH)!.5!(nH -| nG)$) {};
  \node [bsbig] (b-nG) at ($(nG)!.5!(nG -| nA9)$) {};
  \node [bssmall] (b-nA9) at ($(nA9)!.5!(nA9 -| nA8)$) {};
  \node [bsbig] (b-nF7) at ($(nF7)!.5!(nF7 -| nF8)$) {};
  \node [bsbig] (b-nF8) at ($(nF8)!.5!(nF8 -| nF9)$) {};
  \node [bsbig] (b-nF9) at ($(nF9)!.5!(nF9 -| nF1)$) {};
  \node [bsbig] (b-nF1) at ($(nF1)!.5!(nF1 -| nF)$) {};
  \node [bsbig] (b-nF5) at ($(nF5)!.5!(nF5 -| nF4)$) {};
  \node [bsbig] (b-nF4) at ($(nF4)!.5!(nF4 -| nF2)$) {};
  \node [bsbig] (b-nF2) at ($(nF2)!.5!(nF2 -| nF)$) {};
  \node [bsbig] (b-nF) at ($(nF)!.5!(nF -| nA8)$) {};
  \node [bstiny] (b-nA8) at ($(nA8)!.5!(nA8 -| nA7)$) {};
  \node [bstiny] (b-nE) at ($(nE)!.5!(nE -| nA7)$) {};
  \node [bsbig] (b-nA7) at ($(nA7)!.5!(nA7 -| nA6)$) {};
  \node [bsbig] (b-nD5) at ($(nD5)!.5!(nD5 -| nD4)$) {};
  \node [bsbig] (b-nD4) at ($(nD4)!.5!(nD4 -| nD2)$) {};
  \node [bsbig] (b-nD2) at ($(nD2)!.5!(nD2 -| nD1)$) {};
  \node [bsbig] (b-nD6) at ($(nD6)!.5!(nD6 -| nD3)$) {};
  \node [bsbig] (b-nD7) at ($(nD7)!.5!(nD7 -| nD3)$) {};
  \node [bssmall] (b-nD3) at ($(nD3)!.5!(nD3 -| nD1)$) {};
  \node [bssmall] (b-nD1) at ($(nD1)!.5!(nD1 -| nD)$) {};
  \node [bsbig] (b-nD) at ($(nD)!.5!(nD -| nA6)$) {};
  \node [bsbig] (b-nA6) at ($(nA6)!.5!(nA6 -| nA5)$) {};
  \node [bsbig] (b-nC2) at ($(nC2)!.5!(nC2 -| nC1)$) {};
  \node [bssmall] (b-nC1) at ($(nC1)!.5!(nC1 -| nC)$) {};
  \node [bsbig] (b-nC) at ($(nC)!.5!(nC -| nA5)$) {};
  \node [bsmed] (b-nA5) at ($(nA5)!.5!(nA5 -| nA4)$) {};
  \node [bsbig] (b-nB) at ($(nB)!.5!(nB -| nA4)$) {};
  \node [bsmed] (b-nA4) at ($(nA4)!.5!(nA4 -| nA3)$) {};
  \node [bsbig] (b-nA3) at ($(nA3)!.5!(nA3 -| nA2)$) {};
  \node [bsbig] (b-nA2) at ($(nA2)!.5!(nA2 -| nA1)$) {};
  \node [bsbig] (b-nA1) at ($(nA1)!.5!(nA1 -| root)$) {};
  \node [bsbig] (b-nO3) at ($(nO3)!.5!(nO3 -| nO2)$) {};
  \node [bsbig] (b-nO2) at ($(nO2)!.5!(nO2 -| nO1)$) {};
  \node [bsbig] (b-nO1) at ($(nO1)!.5!(nO1 -| nO)$) {};
  \node [bsbig] (b-nO5) at ($(nO5)!.5!(nO5 -| nO4)$) {};
  \node [bsbig] (b-nO6) at ($(nO6)!.5!(nO6 -| nO4)$) {};
  \node [bsbig] (b-nO4) at ($(nO4)!.5!(nO4 -| nO)$) {};
  \end{scope}

\end{tikzpicture}
\end{document}
